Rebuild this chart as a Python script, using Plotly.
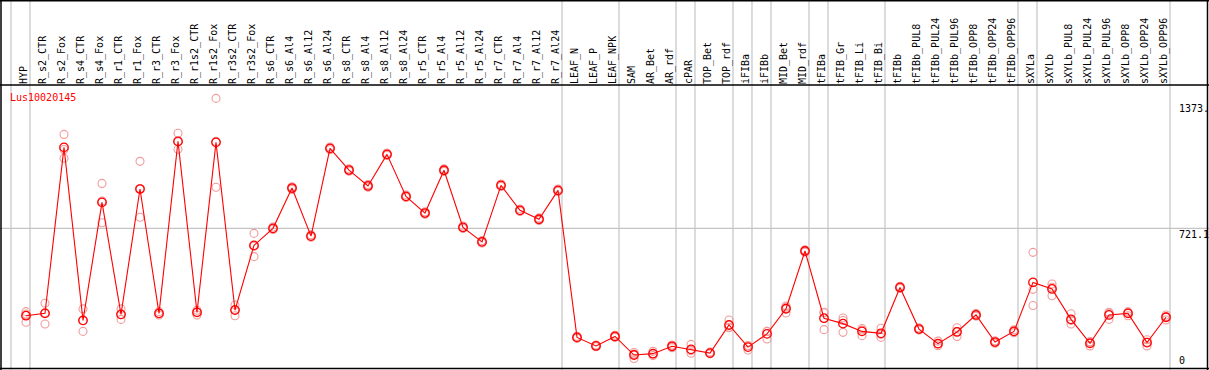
import plotly.graph_objects as go

categories = ["HYP", "R_s2_CTR", "R_s2_Fox", "R_s4_CTR", "R_s4_Fox", "R_r1_CTR", "R_r1_Fox",
              "R_r3_CTR", "R_r3_Fox", "R_r1s2_CTR", "R_r1s2_Fox", "R_r3s2_CTR", "R_r3s2_Fox",
              "R_s6_CTR", "R_s6_Al4", "R_s6_Al12", "R_s6_Al24", "R_s8_CTR", "R_s8_Al4",
              "R_s8_Al12", "R_s8_Al24", "R_r5_CTR", "R_r5_Al4", "R_r5_Al12", "R_r5_Al24",
              "R_r7_CTR", "R_r7_Al4", "R_r7_Al12", "R_r7_Al24", "LEAF_N", "LEAF_P", "LEAF_NPK",
              "SAM", "AR_Bet", "AR_rdf", "cPAR", "TOP_Bet", "TOP_rdf", "iFIBa", "iFIBb",
              "MID_Bet", "MID_rdf", "tFIBa", "tFIB_Gr", "tFIB_Li", "tFIB_Bi", "tFIBb",
              "tFIBb_PUL8", "tFIBb_PUL24", "tFIBb_PUL96", "tFIBb_OPP8", "tFIBb_OPP24",
              "tFIBb_OPP96", "sXYLa", "sXYLb", "sXYLb_PUL8", "sXYLb_PUL24", "sXYLb_PUL96",
              "sXYLb_OPP8", "sXYLb_OPP24", "sXYLb_OPP96"]

mean_values = [270, 282, 1139, 246, 855, 277, 924, 282, 1170, 287, 1165, 299, 633,
               721, 929, 681, 1134, 1022, 940, 1103, 886, 800, 1021, 726, 651,
               943, 814, 768, 917, 158, 114, 163,
               67, 74, 112, 96, 77, 222, 108, 176,
               306, 604, 257, 229, 189, 179, 416,
               201, 126, 186, 274, 134, 189,
               442, 408, 251, 127, 274, 282, 131, 262]

rep1 = [291, 334, 1206, 305, 953, 305, 1067, 291, 1212, 298, 1392, 325, 695,
        728, 936, 688, 1141, 1029, 947, 1110, 893, 807, 1028, 733, 658,
        950, 821, 775, 924, 164, 119, 169,
        80, 86, 119, 122, 82, 248, 115, 189,
        320, 610, 288, 258, 196, 205, 422,
        207, 139, 208, 282, 141, 197,
        597, 434, 280, 136, 288, 291, 146, 274]

rep2 = [279, 227, 1083, 189, 750, 251, 778, 274, 1129, 274, 933, 270, 575,
        715, 922, 675, 1127, 1016, 933, 1097, 880, 794, 1015, 720, 645,
        937, 808, 762, 911, 153, 110, 158,
        72, 64, 105, 76, 73, 210, 93, 150,
        284, 598, 198, 245, 167, 158, 411,
        196, 115, 162, 268, 128, 182,
        406, 373, 227, 114, 251, 270, 114, 248]

rep3 = [236, 285, 1128, 244, 862, 275, 927, 281, 1169, 289, 1170, 302, 629,
        720, 929, 680, 1134, 1021, 940, 1102, 885, 799, 1020, 725, 650,
        942, 813, 767, 916, 157, 113, 162,
        49, 72, 112, 90, 76, 208, 116, 189,
        314, 604, 285, 184, 204, 174, 415,
        200, 124, 188, 272, 133, 188,
        323, 417, 246, 131, 283, 285, 133, 264]

group_first = ["HYP", "R_s2_CTR", "LEAF_N", "SAM", "cPAR", "TOP_Bet", "iFIBa", "iFIBb",
               "MID_Bet", "tFIBa", "tFIB_Gr", "tFIBb", "sXYLa", "sXYLb"]

gene_name = "Lus10020145"
ytick_values = [1373, 721.1, 0]
ytick_labels = ["1373.", "721.1", "0"]

# ---------------- layout geometry ----------------
W, H = 1209, 370
TOP, BOTTOM = 85, 368           # pixel rows of plot area
STEP, X0 = 19.0, 26.0           # pixels per category, pixel of first category
PX_PER_UNIT = (BOTTOM - 228.33) / 721.1
YMAX = (BOTTOM - TOP) / PX_PER_UNIT
XR = [-X0 / STEP, (W - X0) / STEP]
PH = BOTTOM - TOP

def px2paper_x(px):
    return px / W

def py2paper(py):
    return (BOTTOM - py) / PH

def data2paper_x(x):
    return (x - XR[0]) / (XR[1] - XR[0])

idx = list(range(len(categories)))
rep_x = idx * 3
rep_y = rep1 + rep2 + rep3

MONO = "DejaVu Sans Mono"
fig = go.Figure()
fig.add_trace(go.Scatter(
    x=rep_x, y=rep_y, mode="markers",
    marker=dict(symbol="circle-open", size=8, color="#f09a9a", line=dict(width=1.1, color="#f09a9a")),
    hoverinfo="skip", showlegend=False))
fig.add_trace(go.Scatter(
    x=idx, y=mean_values, mode="lines+markers",
    line=dict(color="#ff0000", width=1.1),
    marker=dict(symbol="circle-open", size=8.5, color="#ff0000", line=dict(width=1.3, color="#ff0000")),
    showlegend=False))

shapes = []
gray = "#c4c4c4"
top_paper = py2paper(0)
# group separators
bounds = [categories.index(g) for g in group_first] + [len(categories)]
for b in bounds:
    xp = data2paper_x(b - 15.0 / STEP)
    shapes.append(dict(type="line", xref="paper", yref="paper", x0=xp, x1=xp,
                       y0=py2paper(H), y1=top_paper, line=dict(color=gray, width=1.2), layer="below"))
# horizontal line at middle tick
shapes.append(dict(type="line", xref="paper", yref="y", x0=0, x1=1, y0=ytick_values[1], y1=ytick_values[1],
                   line=dict(color=gray, width=1.2), layer="below"))
# frame
blk = dict(color="black", width=1.5)
shapes += [
    dict(type="line", xref="paper", yref="paper", x0=0, x1=1, y0=py2paper(0.75), y1=py2paper(0.75), line=blk),
    dict(type="line", xref="paper", yref="paper", x0=0, x1=1, y0=py2paper(TOP), y1=py2paper(TOP), line=blk),
    dict(type="line", xref="paper", yref="paper", x0=0, x1=1, y0=py2paper(BOTTOM + 0.5), y1=py2paper(BOTTOM + 0.5), line=blk),
    dict(type="line", xref="paper", yref="paper", x0=px2paper_x(1), x1=px2paper_x(1), y0=py2paper(H), y1=top_paper, line=blk),
    dict(type="line", xref="paper", yref="paper", x0=px2paper_x(1207.5), x1=px2paper_x(1207.5), y0=py2paper(H), y1=top_paper, line=blk),
]

annotations = [dict(text=gene_name, xref="paper", yref="paper", x=px2paper_x(8), y=py2paper(97.5),
                    xanchor="left", yanchor="middle", showarrow=False,
                    font=dict(family=MONO, size=10, color="#ff0000"))]
for v, t in zip(ytick_values, ytick_labels):
    annotations.append(dict(text=t, xref="paper", yref="y", x=px2paper_x(1176.5), y=v,
                            xanchor="left", yanchor="bottom" if v == 0 else "top",
                            yshift=0 if v == 0 else 1,
                            showarrow=False, font=dict(family=MONO, size=10, color="black")))

fig.update_layout(
    width=W, height=H, margin=dict(l=0, r=0, t=TOP, b=H - BOTTOM),
    plot_bgcolor="white", paper_bgcolor="white",
    shapes=shapes, annotations=annotations,
    xaxis=dict(range=XR, tickmode="array", tickvals=idx, ticktext=categories, side="top",
               tickangle=-90, showgrid=False, zeroline=False, showline=False, ticks="",
               tickfont=dict(family=MONO, size=10, color="black"), automargin=False,
               ticklabelshift=-2, fixedrange=True),
    yaxis=dict(range=[0, YMAX], showgrid=False, zeroline=False, showline=False,
               showticklabels=False, ticks="", fixedrange=True),
    font=dict(family=MONO),
)

fig.write_html("out.html", config={"displayModeBar": False},
               post_script="document.body.style.margin='0';document.body.style.overflow='hidden';")
